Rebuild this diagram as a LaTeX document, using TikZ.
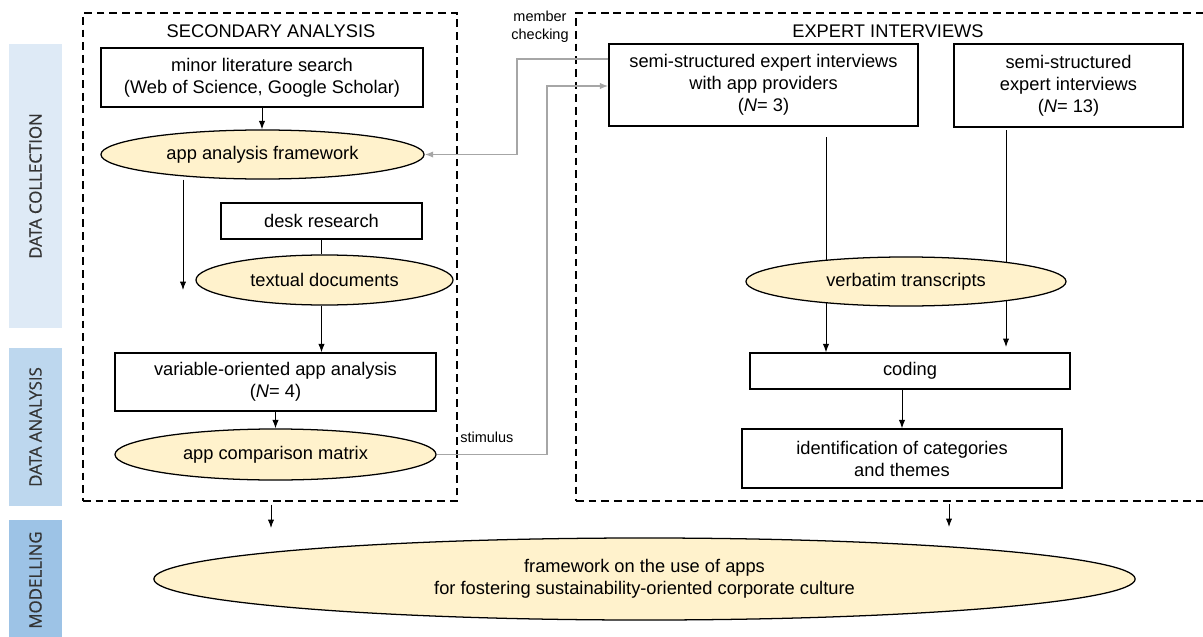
\documentclass[tikz,border=0pt]{standalone}
\usepackage{fontspec}
\setmainfont{Liberation Sans}
\newfontfamily\bandfont{Open Sans}[FakeBold=0.5]
\usetikzlibrary{shapes.geometric}
\usetikzlibrary{arrows.meta}

\definecolor{ellfill}{HTML}{FFF2CC}
\definecolor{linkgray}{HTML}{A6A6A6}
\definecolor{bandA}{HTML}{DEEAF6}
\definecolor{bandB}{HTML}{BDD7EE}
\definecolor{bandC}{HTML}{9DC3E6}
\definecolor{bandtext}{HTML}{333333}

\begin{document}
\begin{tikzpicture}[x=0.025cm,y=-0.025cm,>={Latex[length=6pt,width=4.5pt]}]
  \tikzset{BOX/.style={draw, line width=0.9pt, inner sep=0pt, align=center, font=\fontsize{13}{15.6}\selectfont},
           ELL/.style={ellipse, draw, fill=ellfill, line width=0.9pt, inner sep=0pt, align=center, font=\fontsize{13}{15.6}\selectfont},
           DSH/.style={draw, dashed, dash pattern=on 5.5pt off 3.5pt, line width=0.9pt, inner sep=0pt},
           BAND/.style={rotate=90, inner sep=0pt, text=bandtext, minimum height=1.325cm, font=\bandfont\fontsize{12}{14}\selectfont},
           TTL/.style={font=\fontsize{13}{15}\selectfont},
           SML/.style={font=\fontsize{10.3}{12.8}\selectfont, align=center, inner sep=0pt} }
  \useasboundingbox (0,0) rectangle (1203,637);

  % phases
  \node[BAND, fill=bandA, minimum width=7.1cm]  (dcoll) at (35.5,186) {DATA COLLECTION};
  \node[BAND, fill=bandB, minimum width=3.95cm] (dana)  at (35.5,427) {DATA ANALYSIS};
  \node[BAND, fill=bandC, minimum width=3.0cm]  (model) at (35.5,580) {MODELLING};

  % dashed frames
  \node[DSH, minimum width=9.35cm,  minimum height=12.2cm] (sec) at (270,257) {};
  \node[DSH, minimum width=15.975cm, minimum height=12.2cm] (exp) at (895.5,257) {};
  \node[TTL] (sectitle) at (271,31) {SECONDARY ANALYSIS};
  \node[TTL] (exptitle) at (888,31) {EXPERT INTERVIEWS};

  % secondary analysis
  \node[BOX, minimum width=8.05cm, minimum height=1.475cm] (lit) at (262,77.5) {minor literature search\\(Web of Science, Google Scholar)};
  \node[ELL, minimum width=8.075cm, minimum height=1.225cm] (appfw) at (262.5,154.5) {app analysis framework};
  \node[BOX, minimum width=5.025cm, minimum height=0.9cm] (desk) at (321.5,221) {desk research};
  \node[ELL, minimum width=6.425cm, minimum height=1.25cm] (textual) at (324.5,280) {textual documents};
  \node[BOX, minimum width=8.025cm, minimum height=1.45cm] (varapp) at (275.5,382) {variable-oriented app analysis\\(\textit{N}= 4)};
  \node[ELL, minimum width=8.025cm, minimum height=1.275cm] (matrix) at (275.5,454.5) {app comparison matrix};

  % expert interviews
  \node[BOX, minimum width=7.725cm, minimum height=2.05cm] (semia) at (763.5,85) {semi-structured expert interviews\\with app providers\\(\textit{N}= 3)};
  \node[BOX, minimum width=5.725cm, minimum height=2.075cm] (semib) at (1068.5,85.5) {semi-structured\\expert interviews\\(\textit{N}= 13)};
  \node[BOX, minimum width=8cm, minimum height=0.9cm] (coding) at (910,371) {coding};
  \node[BOX, minimum width=8cm, minimum height=1.475cm] (ident) at (902,458.5) {identification of categories\\and themes};

  \coordinate (sa) at (826,137);
  \coordinate (sb) at (1006,130);
  \draw[->, line width=0.7pt] (sa) -- (sa |- coding.north);
  \draw[->, line width=0.7pt] (sb) -- (1006,347);
  \node[ELL, minimum width=8cm, minimum height=1.225cm] (verbatim) at (906,281.5) {verbatim transcripts};

  % modelling
  \node[ELL, minimum width=24.525cm, minimum height=2.05cm] (frame) at (644.5,579) {framework on the use of apps\\for fostering sustainability-oriented corporate culture};

  % arrows secondary analysis
  \coordinate (dc) at (183,290);
  \draw[->, line width=0.7pt] (lit.south) -- (appfw.north -| lit.south);
  \draw[->, line width=0.7pt] (appfw.south -| dc) -- (dc);
  \draw[-, line width=0.7pt] (desk.south) -- (textual.north -| desk.south);
  \draw[->, line width=0.7pt] (textual.south -| desk.south) -- (varapp.north -| desk.south);
  \draw[->, line width=0.7pt] (varapp.south) -- (matrix.north);
  \draw[->, line width=0.7pt] (902,389) -- (ident.north -| 902,0);

  % links between the two strands
  \coordinate (stim) at (547,86);
  \coordinate (mc) at (517,59);
  \draw[->, linkgray, line width=1pt] (matrix.east) -| (stim) -- (stim -| semia.west);
  \draw[->, linkgray, line width=1pt] (mc -| semia.west) -- (mc) |- (appfw.east);
  \node[SML] (memberlbl) at (540,27) {member\\checking};
  \node[SML, anchor=west] (stimlbl) at (460,437) {stimulus};

  % into modelling
  \coordinate (secout) at (271,528);
  \coordinate (expout) at (949,527);
  \draw[->, line width=0.7pt] ([yshift=-2pt]sec.south -| secout) -- (secout);
  \draw[->, line width=0.7pt] ([yshift=-1.5pt]exp.south -| expout) -- (expout);
\end{tikzpicture}
\end{document}
